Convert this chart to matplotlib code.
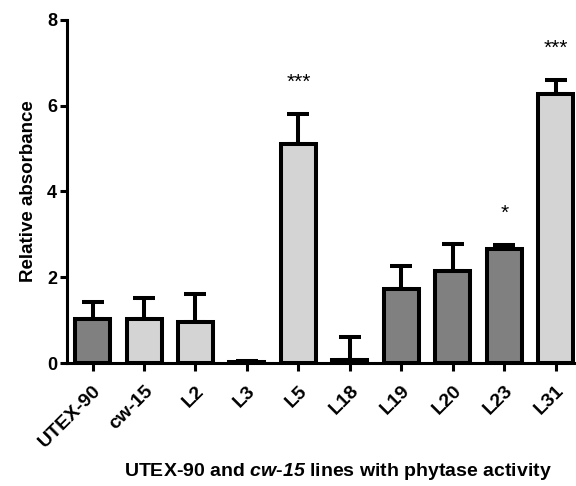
import matplotlib
matplotlib.use("Agg")
import matplotlib.pyplot as plt
import numpy as np

# Data
lines = ["UTEX-90", "cw-15", "L2", "L3", "L5", "L18", "L19", "L20", "L23", "L31"]
means = [1.02, 1.02, 0.95, 0.03, 5.10, 0.08, 1.72, 2.15, 2.66, 6.28]
sem = [0.40, 0.50, 0.66, 0.02, 0.70, 0.52, 0.55, 0.62, 0.10, 0.32]
shade = ["dark", "light", "light", "dark", "light", "dark", "dark", "dark", "dark", "light"]
stars = {"L5": "***", "L23": "*", "L31": "***"}

colors = {"dark": "#808080", "light": "#d4d4d4"}

plt.rcParams["font.family"] = ["Liberation Sans", "DejaVu Sans"]
plt.rcParams["font.weight"] = "bold"
plt.rcParams["mathtext.fontset"] = "custom"
plt.rcParams["mathtext.it"] = "Liberation Sans:italic:bold"
plt.rcParams["mathtext.rm"] = "Liberation Sans:italic:bold"

fig = plt.figure(figsize=(5.76, 4.86), dpi=100)
ax = fig.add_axes([0.116, 0.253, 0.882, 0.706])

x = np.arange(len(lines))
ax.bar(x, means, width=0.68, color=[colors[s] for s in shade],
       edgecolor="black", linewidth=2.9, zorder=3)
ax.errorbar(x, means, yerr=[np.zeros(len(sem)), sem], fmt="none",
            ecolor="black", elinewidth=2.9, capsize=8, capthick=2.9, zorder=2)

# significance marks above the error bars
for i, name in enumerate(lines):
    if name in stars:
        ax.text(i, means[i] + sem[i] + 0.74, stars[name], ha="center", va="center",
                fontsize=15, fontweight="normal")

ax.set_xlim(-0.5, 9.37)
ax.set_ylim(0, 8)
ax.set_yticks([0, 2, 4, 6, 8])
ax.set_xticks(x)
ax.set_xticklabels(lines, rotation=45, ha="right", rotation_mode="anchor",
                   fontsize=14, fontweight="bold")
ax.tick_params(axis="y", labelsize=13, width=2.2, length=5, pad=2)
ax.tick_params(axis="x", width=2.2, length=6, pad=8)
for t in ax.get_yticklabels():
    t.set_fontweight("bold")

for side in ["top", "right"]:
    ax.spines[side].set_visible(False)
for side in ["left", "bottom"]:
    ax.spines[side].set_linewidth(2.2)

ax.set_ylabel("Relative absorbance", fontsize=13.5, fontweight="bold", labelpad=7)
fig.text(0.586, 0.029, r"UTEX-90 and $\mathit{cw}$-$\mathit{15}$ lines with phytase activity",
         ha="center", va="center", fontsize=14, fontweight="bold")

fig.savefig("out.png", dpi=100)
